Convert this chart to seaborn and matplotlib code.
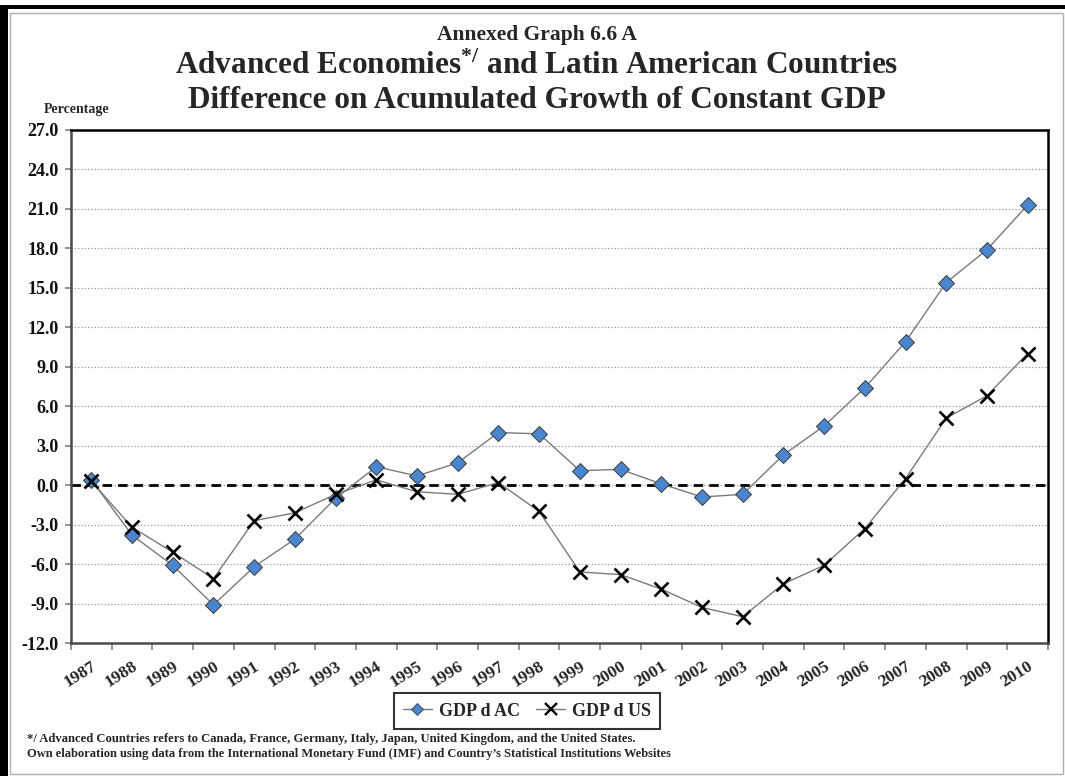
import numpy as np
import pandas as pd
import matplotlib
matplotlib.use("Agg")
import matplotlib.pyplot as plt
import seaborn as sns
from matplotlib.lines import Line2D
from matplotlib.patches import Rectangle
from matplotlib.ticker import FormatStrFormatter

# ---- data -------------------------------------------------------------
years = [str(y) for y in range(1987, 2011)]
gdp_ac = [0.4, -3.8, -6.1, -9.1, -6.2, -4.1, -1.0, 1.4, 0.7, 1.7, 4.0, 3.9,
          1.1, 1.2, 0.1, -0.9, -0.7, 2.3, 4.5, 7.4, 10.9, 15.4, 17.9, 21.3]
gdp_us = [0.3, -3.2, -5.1, -7.1, -2.7, -2.1, -0.7, 0.4, -0.5, -0.7, 0.2, -2.0,
          -6.6, -6.8, -7.9, -9.3, -10.0, -7.5, -6.1, -3.3, 0.5, 5.1, 6.8, 10.0]
y_ticks = np.arange(-12, 28, 3)

df = pd.DataFrame({"pos": np.arange(len(years)), "year": years,
                   "GDP d AC": gdp_ac, "GDP d US": gdp_us})

# ---- style ------------------------------------------------------------
sns.set_theme(style="white")
plt.rcParams["font.family"] = ["Liberation Serif", "DejaVu Serif"]
plt.rcParams["font.weight"] = "bold"
plt.rcParams["mathtext.default"] = "regular"

W, H = 1065, 776
fig = plt.figure(figsize=(W / 100, H / 100), dpi=100)
fig.patch.set_facecolor("white")

# page frame: heavy black edge on top/left, thin grey inner border
fig.patches.append(Rectangle((0, 0), 8 / W, 1 - 5 / H, transform=fig.transFigure,
                             facecolor="black", edgecolor="none", zorder=0))
fig.patches.append(Rectangle((0, 1 - 9 / H), 1, 4 / H, transform=fig.transFigure,
                             facecolor="black", edgecolor="none", zorder=0))
fig.patches.append(Rectangle((10 / W, 2 / H), (1063 - 10) / W, (774 - 13) / H,
                             transform=fig.transFigure, facecolor="none",
                             edgecolor="#b0b0b0", linewidth=1.0, zorder=0))

ax = fig.add_axes([71 / W, 1 - 643 / H, (1048 - 71) / W, (643 - 130) / H])
ax.set_facecolor("white")

line_grey = "#7a7a7a"
ax.axhline(0, color="black", lw=2.0, ls=(0, (3.4, 2.2)), zorder=2)

sns.lineplot(data=df, x="pos", y="GDP d AC", ax=ax, color=line_grey, lw=1.0,
             marker="D", markersize=8, markerfacecolor="#4A86D0",
             markeredgecolor="#3c3c3c", markeredgewidth=0.7, zorder=3,
             legend=False)
sns.lineplot(data=df, x="pos", y="GDP d US", ax=ax, color=line_grey, lw=1.0,
             marker="x", markersize=10.5, markeredgecolor="black",
             markeredgewidth=1.9, zorder=4, legend=False)

# axes limits and ticks
ax.set_xlim(-0.5, len(years) - 0.5)
ax.set_ylim(y_ticks[0], y_ticks[-1])
ax.set_xticks(df["pos"])
ax.set_xticklabels(years, rotation=32, ha="right", rotation_mode="anchor",
                   fontsize=12.5, fontweight="bold")
ax.set_xticks(np.arange(-0.5, len(years), 1.0), minor=True)
ax.tick_params(axis="x", which="major", length=0, pad=11)
ax.tick_params(axis="x", which="minor", length=5, width=1.2, color="#808080",
               direction="out", bottom=True)
ax.set_yticks(y_ticks)
ax.yaxis.set_major_formatter(FormatStrFormatter("%.1f"))
ax.tick_params(axis="y", length=4, width=1.2, color="#808080", direction="out",
               pad=5, left=True, labelsize=13, labelcolor="#111111")
for lab in ax.get_yticklabels():
    lab.set_fontweight("bold")
ax.set_xlabel("")
ax.set_ylabel("")

ax.yaxis.grid(True, linestyle=":", color="#9a9a9a", lw=0.9)
ax.xaxis.grid(False)
ax.set_axisbelow(True)

for side in ("left", "bottom"):
    ax.spines[side].set_color("#4a4a4a")
    ax.spines[side].set_linewidth(1.8)
for side in ("top", "right"):
    ax.spines[side].set_color("black")
    ax.spines[side].set_linewidth(1.8)

# titles
fig.text(537 / W, 1 - 35 / H, "Annexed Graph 6.6 A", ha="center", va="center",
         fontsize=15.5, fontweight="bold")
fig.text(537 / W, 1 - 66 / H,
         r"Advanced Economies$^{*/}$ and Latin American Countries",
         ha="center", va="center", fontsize=22.5, fontweight="bold")
fig.text(537 / W, 1 - 100 / H,
         "Difference on Acumulated Growth of Constant GDP",
         ha="center", va="center", fontsize=22.5, fontweight="bold")
fig.text(77 / W, 1 - 110 / H, "Percentage", ha="center", va="center",
         fontsize=10, fontweight="bold")

# legend
handles = [
    Line2D([], [], color=line_grey, lw=1.0, marker="D", markersize=6,
           markerfacecolor="#4A86D0", markeredgecolor="#3c3c3c",
           markeredgewidth=0.6),
    Line2D([], [], color=line_grey, lw=1.0, marker="x", markersize=8,
           markeredgecolor="black", markeredgewidth=1.7),
]
leg = fig.legend(handles, ["GDP d AC", "GDP d US"], loc="center",
                 bbox_to_anchor=(527 / W, 1 - 711 / H), ncol=2, frameon=True,
                 fancybox=False, shadow=False,
                 prop={"weight": "bold", "size": 13},
                 handlelength=1.6, handletextpad=0.4, columnspacing=0.9,
                 borderpad=0.5, borderaxespad=0)
leg.get_frame().set_edgecolor("black")
leg.get_frame().set_linewidth(1.5)

# footnotes
fig.text(27 / W, 1 - 742 / H,
         "*/ Advanced Countries refers to Canada, France, Germany, Italy, Japan, "
         "United Kingdom, and the United States.",
         ha="left", va="baseline", fontsize=9.1, fontweight="bold")
fig.text(27 / W, 1 - 757 / H,
         "Own elaboration using data from the International Monetary Fund (IMF) "
         "and Country\u2019s Statistical Institutions Websites",
         ha="left", va="baseline", fontsize=9.0, fontweight="bold")

fig.savefig("out.png", dpi=100, facecolor="white")
